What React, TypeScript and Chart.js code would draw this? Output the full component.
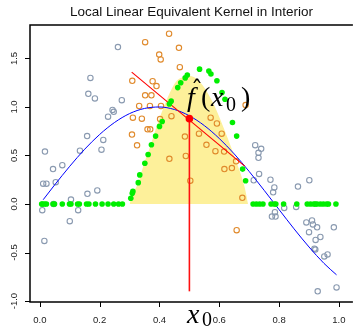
import React, { useEffect, useRef } from 'react';
import { Chart, registerables } from 'chart.js';

Chart.register(...registerables);

const chartTitle = 'Local Linear Equivalent Kernel in Interior';
const xTicks = [0.0, 0.2, 0.4, 0.6, 0.8, 1.0];
const yTicks = [-1.0, -0.5, 0.0, 0.5, 1.0, 1.5];

// data points outside the kernel window (gray)
const grayX = [0.261, 0.169, 0.162, 0.184, 0.274, 0.243, 0.247, 0.228, 0.158, 0.212, 0.134, 0.206, 0.017, 0.075, 0.044, 0.011, 0.022, 0.053, 0.159, 0.192, 0.104, 0.046, 0.008, 0.128, 0.100, 0.015,
  0.733, 0.715, 0.771, 0.784, 0.780, 0.863, 0.901, 0.817, 0.857, 0.786, 0.776, 0.788, 0.891, 0.910, 0.913, 0.927, 0.900, 0.983, 0.938, 0.922, 0.918, 0.921, 0.962, 0.951, 0.929, 0.992, 0.720, 0.740, 0.731, 0.731];
const grayY = [1.617, 1.30, 1.136, 1.088, 1.07, 0.97, 0.95, 0.90, 0.70, 0.66, 0.55, 0.56, 0.54, 0.40, 0.36, 0.21, 0.21, 0.225, 0.105, 0.14, 0.046, 0.0, -0.064, -0.064, -0.177, -0.38,
  0.31, 0.245, 0.25, 0.17, 0.12, 0.18, 0.245, -0.04, -0.03, -0.085, -0.13, -0.13, -0.19, -0.17, -0.21, -0.24, -0.29, -0.24, -0.34, -0.37, -0.46, -0.47, -0.52, -0.54, -0.90, -0.86, 0.606, 0.569, 0.528, 0.476];

// data points inside the kernel window (orange)
const orangeX = [0.432, 0.352, 0.465, 0.399, 0.404, 0.468, 0.309, 0.377, 0.390, 0.352, 0.373, 0.332, 0.368, 0.405, 0.311, 0.341, 0.402, 0.440, 0.571, 0.592, 0.532, 0.608, 0.308, 0.360, 0.369, 0.325, 0.485, 0.557, 0.587, 0.616, 0.433, 0.488, 0.617, 0.642, 0.656, 0.503, 0.677, 0.658, 0.688];
const orangeY = [1.755, 1.668, 1.61, 1.54, 1.49, 1.41, 1.27, 1.265, 1.215, 1.12, 1.12, 1.01, 1.01, 1.01, 0.89, 0.88, 0.875, 0.905, 0.89, 0.83, 0.725, 0.725, 0.716, 0.77, 0.77, 0.605, 0.695, 0.61, 0.545, 0.54, 0.466, 0.495, 0.36, 0.37, 0.44, 0.24, 0.064, -0.27, 1.02];

// equivalent kernel weights (green)
const greenX = [0.006, 0.009, 0.016, 0.022, 0.044, 0.049, 0.075, 0.099, 0.104, 0.126, 0.132, 0.156, 0.164, 0.186, 0.208, 0.228, 0.247, 0.263, 0.276,
  0.304, 0.309, 0.311, 0.329, 0.334, 0.351, 0.362, 0.373, 0.387, 0.400, 0.409, 0.433, 0.439, 0.461, 0.471, 0.486, 0.493, 0.534, 0.565, 0.572, 0.592, 0.609, 0.619, 0.644, 0.658, 0.678, 0.688,
  0.713, 0.724, 0.735, 0.746, 0.773, 0.784, 0.789, 0.815, 0.859, 0.894, 0.905, 0.916, 0.921, 0.927, 0.938, 0.948, 0.959, 0.965, 0.990];
const greenY = [0, 0, 0, 0, 0, 0, 0, 0, 0, 0, 0, 0, 0, 0, 0, 0, 0, 0, 0,
  0.06, 0.11, 0.13, 0.22, 0.30, 0.42, 0.51, 0.61, 0.70, 0.80, 0.85, 1.03, 1.06, 1.20, 1.25, 1.30, 1.33, 1.39, 1.37, 1.34, 1.27, 1.15, 1.08, 0.84, 0.70, 0.36, 0.24,
  0, 0, 0, 0, 0, 0, 0, 0, 0, 0, 0, 0, 0, 0, 0, 0, 0, 0, 0];

// true function (blue)
const curveX = [0.011, 0.05, 0.10, 0.15, 0.20, 0.25, 0.30, 0.35, 0.40, 0.45, 0.50, 0.55, 0.60, 0.65, 0.70, 0.75, 0.80, 0.85, 0.90, 0.95, 0.992];
const curveY = [0.044, 0.199, 0.389, 0.565, 0.717, 0.841, 0.932, 0.985, 1.0, 0.974, 0.909, 0.808, 0.675, 0.516, 0.335, 0.141, -0.058, -0.256, -0.443, -0.612, -0.73];

// kernel shape (yellow)
const kernelX = [0.300, 0.305, 0.329, 0.351, 0.362, 0.395, 0.422, 0.455, 0.480, 0.500, 0.520, 0.543, 0.581, 0.619, 0.652, 0.685, 0.696];
const kernelY = [0.0, 0.06, 0.22, 0.44, 0.53, 0.84, 1.06, 1.26, 1.31, 1.32, 1.30, 1.23, 1.03, 0.75, 0.48, 0.17, 0.0];

// local linear fit (red)
const fitX = [0.307, 0.685];
const fitY = [1.36, 0.39];
const x0 = 0.5;
const fitAtX0 = 0.88;
const x0LineBottom = -0.9;

const pts = (xs: number[], ys: number[]) => xs.map((x, i) => ({ x, y: ys[i] }));

const decor = {
  id: 'decor',
  afterDraw(chart: any) {
    const { ctx, chartArea: a, scales } = chart;
    const xs = scales.x;
    const ys = scales.y;
    ctx.save();
    // frame: left, top, bottom
    ctx.strokeStyle = '#000';
    ctx.lineWidth = 1.5;
    ctx.beginPath();
    ctx.moveTo(a.right + 5, a.top);
    ctx.lineTo(a.left, a.top);
    ctx.lineTo(a.left, a.bottom);
    ctx.lineTo(a.right + 5, a.bottom);
    ctx.stroke();
    // ticks
    ctx.lineWidth = 1;
    ctx.beginPath();
    yTicks.forEach((v) => {
      const py = Math.round(ys.getPixelForValue(v)) + 0.5;
      ctx.moveTo(a.left - 5, py);
      ctx.lineTo(a.left, py);
    });
    xTicks.forEach((v) => {
      const px = Math.round(xs.getPixelForValue(v)) + 0.5;
      ctx.moveTo(px, a.bottom);
      ctx.lineTo(px, a.bottom + 5);
    });
    ctx.stroke();
    // tick labels
    ctx.fillStyle = '#222';
    ctx.font = '9.5px "Liberation Sans", Arial, sans-serif';
    ctx.textAlign = 'center';
    ctx.textBaseline = 'alphabetic';
    xTicks.forEach((v) => {
      ctx.fillText(v.toFixed(1), xs.getPixelForValue(v), 323);
    });
    yTicks.forEach((v) => {
      ctx.save();
      ctx.translate(17, ys.getPixelForValue(v));
      ctx.rotate(-Math.PI / 2);
      ctx.fillText(v.toFixed(1), 0, 0);
      ctx.restore();
    });
    // title
    ctx.fillStyle = '#111';
    ctx.font = '13.5px "Liberation Sans", Arial, sans-serif';
    ctx.fillText(chartTitle, 191.5, 16);
    // math labels
    ctx.fillStyle = '#000';
    ctx.textAlign = 'left';
    const it = 'italic 28px "Liberation Serif", "DejaVu Serif", serif';
    const up = '28px "Liberation Serif", "DejaVu Serif", serif';
    const sub = '20px "Liberation Serif", "DejaVu Serif", serif';
    const hat = '24px "DejaVu Serif", "Liberation Serif", serif';
    ctx.font = it;
    ctx.fillText('f', 187, 106);
    ctx.font = hat;
    ctx.fillText('\u02C6', 191, 98);
    ctx.font = up;
    ctx.fillText('(', 201, 106);
    ctx.font = it;
    ctx.fillText('x', 211, 106);
    ctx.font = sub;
    ctx.fillText('0', 226, 111);
    ctx.font = up;
    ctx.fillText(')', 241, 106);
    ctx.font = it;
    ctx.fillText('x', 187, 323);
    ctx.font = sub;
    ctx.fillText('0', 202, 326);
    ctx.restore();
  },
};

export default function App() {
  const ref = useRef<HTMLCanvasElement | null>(null);
  useEffect(() => {
    if (!ref.current) return;
    const chart = new Chart(ref.current, {
      type: 'scatter',
      data: {
        datasets: [
          {
            type: 'scatter',
            data: [{ x: x0, y: fitAtX0 }],
            pointRadius: 3.8,
            backgroundColor: '#ff0000',
            borderWidth: 0,
            order: 0,
          } as any,
          {
            type: 'line',
            data: [{ x: x0, y: x0LineBottom }, { x: x0, y: fitAtX0 }],
            borderColor: '#ff1010',
            borderWidth: 1.6,
            pointRadius: 0,
            fill: false,
            order: 1,
          },
          {
            type: 'scatter',
            data: pts(greenX, greenY),
            pointRadius: 2.8,
            backgroundColor: '#00ee00',
            borderWidth: 0,
            order: 2,
          } as any,
          {
            type: 'line',
            data: pts(fitX, fitY),
            borderColor: '#ff0000',
            borderWidth: 1.1,
            pointRadius: 0,
            fill: false,
            order: 3,
          },
          {
            type: 'line',
            data: pts(curveX, curveY),
            borderColor: '#0000ff',
            borderWidth: 1,
            pointRadius: 0,
            cubicInterpolationMode: 'monotone',
            fill: false,
            order: 4,
          },
          {
            type: 'scatter',
            data: pts(orangeX, orangeY),
            pointRadius: 2.7,
            backgroundColor: 'rgba(0,0,0,0)',
            borderColor: '#e08a2c',
            borderWidth: 1.1,
            order: 5,
          } as any,
          {
            type: 'scatter',
            data: pts(grayX, grayY),
            pointRadius: 2.7,
            backgroundColor: 'rgba(0,0,0,0)',
            borderColor: '#8a9ab0',
            borderWidth: 1.1,
            order: 5,
          } as any,
          {
            type: 'line',
            data: pts(kernelX, kernelY),
            borderWidth: 0,
            borderColor: 'rgba(0,0,0,0)',
            backgroundColor: '#fdf09a',
            pointRadius: 0,
            cubicInterpolationMode: 'monotone',
            fill: 'origin',
            order: 6,
          },
        ],
      },
      options: {
        animation: false,
        responsive: false,
        maintainAspectRatio: false,
        events: [],
        layout: { padding: { left: 30, top: 25, right: 0, bottom: 25 } },
        plugins: {
          legend: { display: false },
          tooltip: { enabled: false },
          title: { display: false },
        },
        scales: {
          x: { type: 'linear', min: -0.033, max: 1.03, display: false },
          y: { type: 'linear', min: -1.01, max: 1.845, display: false },
        },
      },
      plugins: [decor],
    });
    return () => chart.destroy();
  }, []);
  return (
    <div style={{ position: 'fixed', left: 0, top: 0, width: 353, height: 327, background: '#fff' }}>
      <canvas ref={ref} width={353} height={327} style={{ display: 'block' }} />
    </div>
  );
}
